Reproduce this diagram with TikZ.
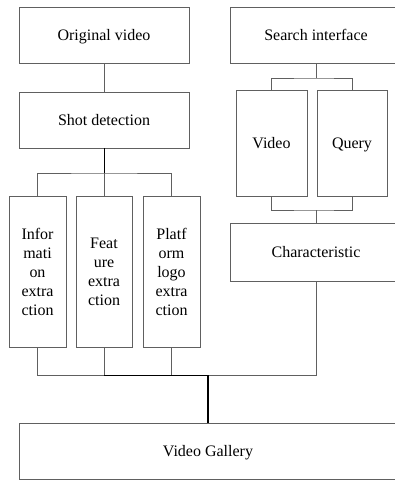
\documentclass[tikz,border=0pt]{standalone}
\usepackage{fontspec}
\setmainfont{Liberation Serif}
\begin{document}
\begin{tikzpicture}[x=1pt,y=1pt,
    box/.style={draw=gray!75!black, line width=0.8pt, align=center, inner sep=0pt,
      font=\fontsize{16}{19}\selectfont},
    onebox/.style={box, text height=10.5pt, text depth=0pt},
    wire/.style={draw=gray!75!black, line width=0.8pt},
    trunk/.style={draw=black, line width=1pt}]
    \clip (0,0) rectangle (395,-480);
    % left column
    \node[onebox, minimum width=170pt, minimum height=56pt] (orig) at (104,-35) {Original video};
    \node[onebox, minimum width=170pt, minimum height=56pt] (shot) at (104,-120) {Shot detection};
    \node[box, minimum width=57pt, minimum height=151pt] (info) at (37.5,-271.5) {Infor\\mati\\on\\extra\\ction};
    \node[box, minimum width=56pt, minimum height=151pt] (feat) at (104,-271.5) {Feat\\ure\\extra\\ction};
    \node[box, minimum width=57pt, minimum height=151pt] (plat) at (171.5,-271.5) {Platf\\orm\\logo\\extra\\ction};
    % right column
    \node[onebox, minimum width=172pt, minimum height=56pt] (search) at (316,-35) {Search interface};
    \node[onebox, minimum width=71pt, minimum height=106pt] (vid) at (271.5,-143) {Video};
    \node[onebox, minimum width=70pt, minimum height=106pt] (query) at (352,-143) {Query};
    \node[onebox, minimum width=172pt, minimum height=58pt] (chara) at (316,-252) {Characteristic};
    \node[onebox, minimum width=378pt, minimum height=56pt] (gallery) at (208,-451) {Video Gallery};
    \coordinate (topbus) at (104,-173);
    \coordinate (sbus) at (316,-78);
    \coordinate (cbus) at (316,-210);
    \coordinate (lowbus) at (208,-375);
    \draw[wire] (orig) -- (shot);
    \draw[trunk] (shot) -- (topbus);
    \draw[wire] (info.north) |- (topbus) -| (plat.north);
    \draw[wire] (feat) -- (topbus);
    \draw[wire] (search) -- (sbus);
    \draw[wire] (vid.north) |- (sbus) -| (query.north);
    \draw[wire] (vid.south) |- (cbus) -| (query.south);
    \draw[wire] (cbus) -- (chara);
    \draw[wire] (info) |- (feat |- lowbus);
    \draw[wire] (feat) -- (feat |- lowbus);
    \draw[wire] (plat) -- (plat |- lowbus);
    \draw[wire] (chara) |- (lowbus);
    \draw[trunk] (feat |- lowbus) -- (lowbus);
    \draw[trunk, line width=1.3pt] (lowbus) -- (gallery);
  \end{tikzpicture}
\end{document}
